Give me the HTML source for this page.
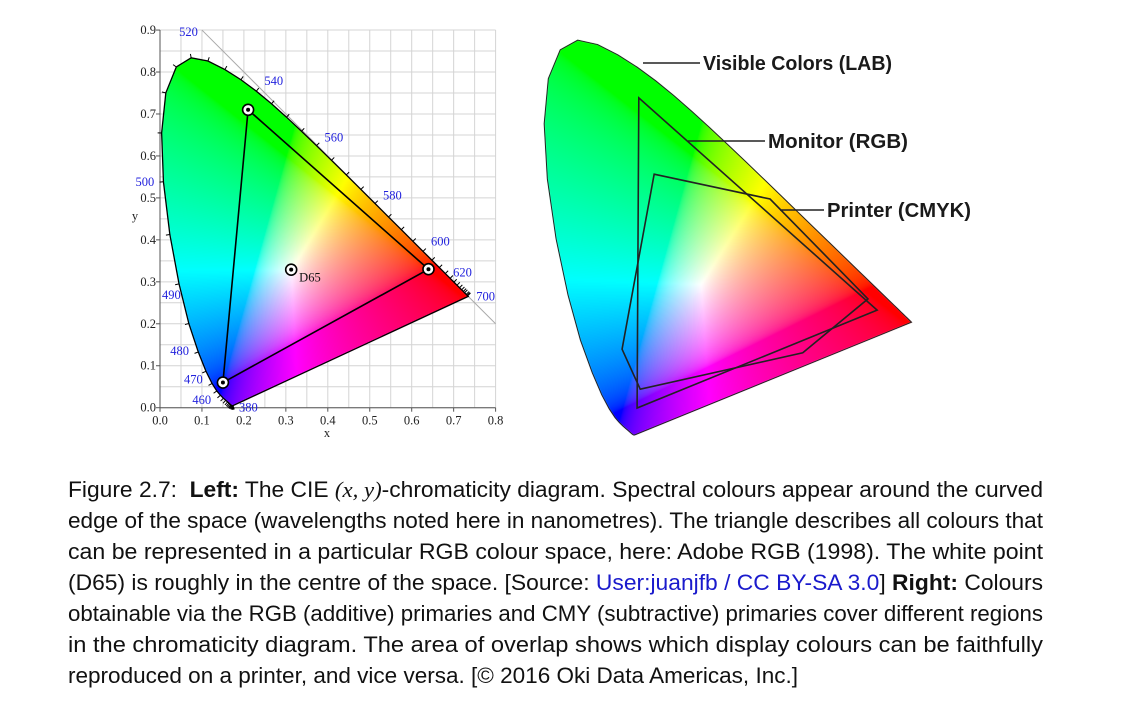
<!DOCTYPE html>
<html><head><meta charset="utf-8">
<style>
html,body{margin:0;padding:0;background:#fff;width:1140px;height:706px;overflow:hidden;position:relative}
#cv{position:absolute;left:0;top:0}
#svg{position:absolute;left:0;top:0}
.cap{position:absolute;left:68px;font-family:"Liberation Sans",sans-serif;font-size:22px;color:#111;white-space:nowrap;transform-origin:0 0;line-height:24px}
.lk{color:#1a1acc}
.m{font-family:"Liberation Serif",serif;font-style:italic}
</style></head><body>
<canvas id="cv" width="1140" height="706"></canvas>
<svg id="svg" width="1140" height="706" xmlns="http://www.w3.org/2000/svg"></svg>
<div id="caption">
<div class="cap" style="top:478px">Figure 2.7:&nbsp; <b>Left:</b> The CIE <span class="m">(x, y)</span>-chromaticity diagram. Spectral colours appear around the curved</div>
<div class="cap" style="top:509px">edge of the space (wavelengths noted here in nanometres). The triangle describes all colours that</div>
<div class="cap" style="top:540px">can be represented in a particular RGB colour space, here: Adobe RGB (1998). The white point</div>
<div class="cap" style="top:571px">(D65) is roughly in the centre of the space. [Source: <span class="lk">User:juanjfb / CC BY-SA 3.0</span>] <b>Right:</b> Colours</div>
<div class="cap" style="top:602px">obtainable via the RGB (additive) primaries and CMY (subtractive) primaries cover different regions</div>
<div class="cap" style="top:633px">in the chromaticity diagram. The area of overlap shows which display colours can be faithfully</div>
<div class="cap" style="top:664px">reproduced on a printer, and vice versa. [© 2016 Oki Data Americas, Inc.]</div>
</div>
<script>
const locusWl=[380,385,390,395,400,405,410,415,420,425,430,435,440,445,450,455,460,465,470,475,480,485,490,495,500,505,510,515,520,525,530,535,540,545,550,555,560,565,570,575,580,585,590,595,600,605,610,615,620,625,630,635,640,645,650,660,670,680,700];
const locusX=[.1741,.1740,.1738,.1736,.1733,.1730,.1726,.1721,.1714,.1703,.1689,.1669,.1644,.1611,.1566,.1510,.1440,.1355,.1241,.1096,.0913,.0687,.0454,.0235,.0082,.0039,.0139,.0389,.0743,.1142,.1547,.1929,.2296,.2658,.3016,.3373,.3731,.4087,.4441,.4788,.5125,.5448,.5752,.6029,.6270,.6482,.6658,.6801,.6915,.7006,.7079,.7140,.7190,.7230,.7260,.7300,.7320,.7334,.7347];
const locusY=[.0050,.0050,.0049,.0049,.0048,.0048,.0048,.0048,.0051,.0058,.0069,.0086,.0109,.0138,.0177,.0227,.0297,.0399,.0578,.0868,.1327,.2007,.2950,.4127,.5384,.6548,.7502,.8120,.8338,.8262,.8059,.7816,.7543,.7243,.6923,.6589,.6245,.5896,.5547,.5202,.4866,.4544,.4242,.3965,.3725,.3514,.3340,.3197,.3083,.2993,.2920,.2859,.2809,.2770,.2740,.2700,.2680,.2666,.2653];
const labelWl=[380,460,470,480,490,500,520,540,560,580,600,620,700];
const labelDx=[6,-28,-28,-28,-17,-28,-12,8,8,8,8,3,8];
const labelDy=[6,9,0,3,15,4,-22,-6,-4,-4,-6,-2,4];
const primX=[0.64,0.21,0.15];
const primY=[0.33,0.71,0.06];
const whiteX=[0.3127], whiteY=[0.329];
const xTicks=[0,0.1,0.2,0.3,0.4,0.5,0.6,0.7,0.8];
const yTicks=[0,0.1,0.2,0.3,0.4,0.5,0.6,0.7,0.8,0.9];
const monitorX=[0.195,0.666,0.180];
const monitorY=[0.717,0.288,0.062];
const printerX=[0.223,0.455,0.648,0.515,0.187,0.152];
const printerY=[0.557,0.514,0.311,0.192,0.102,0.185];
const rightLabels=["Visible Colors (LAB)","Monitor (RGB)","Printer (CMYK)"];

const X0=160,XS=419.5,Y0=407.7,YS=419.6;
const lx=x=>X0+x*XS, ly=y=>Y0-y*YS;
const rx=(x,y)=>548+498*x-8.8*y, ry=(x,y)=>434+19*x-474*y;
const rInv=(P,Q)=>{const a=P-548,b=Q-434,d=235885;return [(474*a-8.8*b)/d,(19*a-498*b)/d];};

function col(x,y){
  if(y<=0.001)y=0.001;
  const X=x/y,Y=1,Z=(1-x-y)/y;
  let r=3.2406*X-1.5372*Y-0.4986*Z,g=-0.9689*X+1.8758*Y+0.0415*Z,b=0.0557*X-0.2040*Y+1.0570*Z;
  r=Math.max(r,0);g=Math.max(g,0);b=Math.max(b,0);
  const m=Math.max(r,g,b)||1;r/=m;g/=m;b/=m;
  const gm=v=>v<=0.0031308?12.92*v:1.055*Math.pow(v,1/2.4)-0.055;
  return [gm(r)*255,gm(g)*255,gm(b)*255];
}
const cv=document.getElementById('cv'),ctx=cv.getContext('2d');
function fillRegion(x0,y0,w,h,toXY,pathFn){
  const img=ctx.createImageData(w,h);
  for(let j=0;j<h;j++)for(let i=0;i<w;i++){
    const p=toXY(x0+i,y0+j);const c=col(p[0],p[1]);const k=(j*w+i)*4;
    img.data[k]=c[0];img.data[k+1]=c[1];img.data[k+2]=c[2];img.data[k+3]=255;}
  const off=document.createElement('canvas');off.width=w;off.height=h;off.getContext('2d').putImageData(img,0,0);
  ctx.save();ctx.beginPath();pathFn();ctx.closePath();ctx.clip();ctx.drawImage(off,x0,y0);ctx.restore();
}
fillRegion(160,30,320,385,(px,py)=>[(px-X0)/XS,(Y0-py)/YS],()=>{locusX.forEach((x,i)=>i?ctx.lineTo(lx(x),ly(locusY[i])):ctx.moveTo(lx(x),ly(locusY[i])));});
fillRegion(540,30,380,410,rInv,()=>{locusX.forEach((x,i)=>i?ctx.lineTo(rx(x,locusY[i]),ry(x,locusY[i])):ctx.moveTo(rx(x,locusY[i]),ry(x,locusY[i])));});

const NS='http://www.w3.org/2000/svg',svg=document.getElementById('svg');
function el(t,a,p){const e=document.createElementNS(NS,t);for(const k in a)e.setAttribute(k,a[k]);(p||svg).appendChild(e);return e;}

const grid=el('g',{});


for(let i=0;i<=16;i++){el('line',{x1:lx(i*0.05),x2:lx(i*0.05),y1:ly(0),y2:ly(0.9),stroke:'#d4d4d4','stroke-width':1},grid);}
for(let i=0;i<=18;i++){el('line',{x1:lx(0),x2:lx(0.8),y1:ly(i*0.05),y2:ly(i*0.05),stroke:'#d4d4d4','stroke-width':1},grid);}
const diag=el('line',{x1:lx(0.1),y1:ly(0.9),x2:lx(0.8),y2:ly(0.2),stroke:'#aaa','stroke-width':1});


const cp=el('clipPath',{id:'outside'});
let dpath='M0,0H1140V706H0Z M';
dpath+=locusX.map((x,i)=>lx(x).toFixed(1)+','+ly(locusY[i]).toFixed(1)).join(' L')+'Z';
el('path',{d:dpath,'clip-rule':'evenodd'},cp);
grid.setAttribute('clip-path','url(#outside)');
diag.setAttribute('clip-path','url(#outside)');

const ax=el('g',{'font-family':'Liberation Serif,serif','font-size':'12.5',fill:'#222'});


el('line',{x1:lx(0),y1:ly(0),x2:lx(0),y2:ly(0.9),stroke:'#555'},ax);
el('line',{x1:lx(0),y1:ly(0),x2:lx(0.8),y2:ly(0),stroke:'#555'},ax);
xTicks.forEach(t=>{el('line',{x1:lx(t),x2:lx(t),y1:ly(0),y2:ly(0)+4,stroke:'#555'},ax);const tx=el('text',{x:lx(t),y:ly(0)+17,'text-anchor':'middle'},ax);tx.textContent=t.toFixed(1);

});
yTicks.forEach(t=>{el('line',{x1:lx(0)-4,x2:lx(0),y1:ly(t),y2:ly(t),stroke:'#555'},ax);const tx=el('text',{x:lx(0)-4,y:ly(t)+4,'text-anchor':'end'},ax);tx.textContent=t.toFixed(1);

});
const xt=el('text',{x:327,y:437,'text-anchor':'middle'},ax);xt.textContent='x';


const yt=el('text',{x:135,y:220,'text-anchor':'middle'},ax);yt.textContent='y';



const lp=el('polygon',{points:locusX.map((x,i)=>lx(x)+','+ly(locusY[i])).join(' '),fill:'none',stroke:'#000','stroke-width':1.3});


for(let i=1;i<locusX.length-1;i++){
  const dx=lx(locusX[i+1])-lx(locusX[i-1]),dy=ly(locusY[i+1])-ly(locusY[i-1]);const L=Math.hypot(dx,dy)||1;
  const nx=-dy/L,ny=dx/L;const px=lx(locusX[i]),py=ly(locusY[i]);
  el('line',{x1:px,y1:py,x2:px-nx*4,y2:py-ny*4,stroke:'#000','stroke-width':1});
}
const lg=el('g',{'font-family':'Liberation Serif,serif','font-size':'12.5',fill:'#2222dd'});


labelWl.forEach((w,i)=>{const k=locusWl.indexOf(w);const t=el('text',{x:lx(locusX[k])+labelDx[i],y:ly(locusY[k])+labelDy[i]},lg);t.textContent=w;

});
const tri=el('polygon',{points:primX.map((x,i)=>lx(x)+','+ly(primY[i])).join(' '),fill:'none',stroke:'#000','stroke-width':1.6});


function marker(x,y,name){const g=el('g',{});


el('circle',{cx:lx(x),cy:ly(y),r:5.5,fill:'#fff',stroke:'#000','stroke-width':1.6},g);el('circle',{cx:lx(x),cy:ly(y),r:2,fill:'#000'},g);}
primX.forEach((x,i)=>marker(x,primY[i],'primary-marker'));
marker(whiteX[0],whiteY[0],'d65-marker');
const d65=el('text',{x:lx(whiteX[0])+8,y:ly(whiteY[0])+12,'font-family':'Liberation Serif,serif','font-size':'12.5',fill:'#111'});d65.textContent='D65';



const rl=el('polygon',{points:locusX.map((x,i)=>rx(x,locusY[i])+','+ry(x,locusY[i])).join(' '),fill:'none',stroke:'#222','stroke-width':1});


const mon=el('polygon',{points:monitorX.map((x,i)=>rx(x,monitorY[i])+','+ry(x,monitorY[i])).join(' '),fill:'none',stroke:'#222','stroke-width':1.6});


const prn=el('polygon',{points:printerX.map((x,i)=>rx(x,printerY[i])+','+ry(x,printerY[i])).join(' '),fill:'none',stroke:'#222','stroke-width':1.6});


const leadX1=[643,688,780],leadX2=[700,765,824],leadY=[63,141,210];
rightLabels.forEach((s,i)=>{el('line',{x1:leadX1[i],x2:leadX2[i],y1:leadY[i],y2:leadY[i],stroke:'#222','stroke-width':1.5});
const t=el('text',{x:leadX2[i]+3,y:leadY[i]+7,'font-family':'Liberation Sans,sans-serif','font-size':'20','font-weight':'bold',fill:'#1a1a1a',textLength:[189,140,144][i],lengthAdjust:'spacingAndGlyphs'});t.textContent=s;

});

document.querySelectorAll('.cap').forEach((d,i)=>{
  
  
  const w=d.getBoundingClientRect().width;const target=i==6?730:975;d.style.transform='scaleX('+(target/w)+')';});
</script>
</body></html>
